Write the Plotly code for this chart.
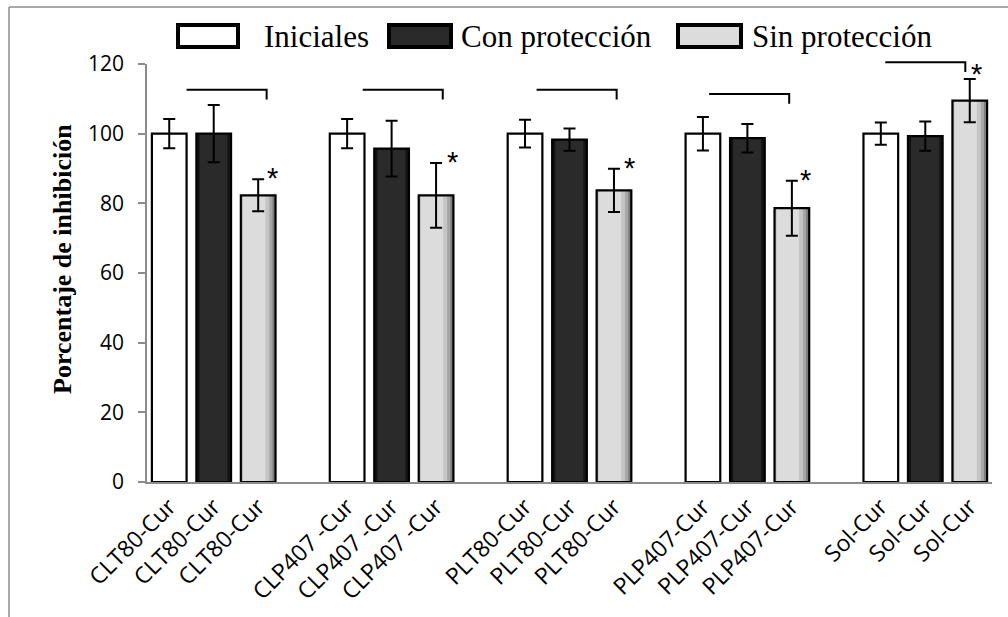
import plotly.graph_objects as go

# ---------------- data ----------------
groups = ["CLT80-Cur", "CLP407 -Cur", "PLT80-Cur", "PLP407-Cur", "Sol-Cur"]
series_names = ["Iniciales", "Con protección", "Sin protección"]

iniciales = [100.0, 100.0, 100.0, 100.0, 100.0]
iniciales_err = [4.2, 4.2, 4.0, 4.8, 3.2]

con_proteccion = [100.0, 95.7, 98.3, 98.7, 99.3]
con_proteccion_err = [8.2, 8.0, 3.2, 4.1, 4.2]

sin_proteccion = [82.3, 82.3, 83.7, 78.6, 109.5]
sin_proteccion_err = [4.6, 9.3, 6.2, 7.9, 6.2]

significant = [True, True, True, True, True]
bracket_levels = [112.6, 112.6, 112.6, 111.4, 120.5]

y_ticks = [0, 20, 40, 60, 80, 100, 120]

# ---------------- layout helpers ----------------
SLOTS = 4  # 3 bars + 1 empty slot per group
BW = 0.78
Y_RANGE = [0, 120]
series_vals = [iniciales, con_proteccion, sin_proteccion]
series_errs = [iniciales_err, con_proteccion_err, sin_proteccion_err]
fills = ["#ffffff", "#2a2a2a", "#dcdcdc"]
# shading strips (offset from bar centre, width, colour) to mimic the bevel/gradient fill
shading = [
    [],
    [(-0.39, 0.07, "#111111"), (0.31, 0.08, "#141414")],
    [(-0.39, 0.04, "#a9a9a9"), (0.16, 0.23, "#c4c4c4"), (0.25, 0.14, "#a6a6a6"),
     (0.32, 0.07, "#7e7e7e")],
]

W, H = 1008, 617
ML, MR, MT, MB = 147, 16, 64, 135
PW, PH = W - ML - MR, H - MT - MB


def px_x(p):
    return (p - ML) / PW


def px_y(p):
    return (H - MB - p) / PH


def val_to_paper(v):
    return (v - Y_RANGE[0]) / (Y_RANGE[1] - Y_RANGE[0])


fig = go.Figure()

tickvals, ticktext = [], []
for s, (name, vals, col) in enumerate(zip(series_names, series_vals, fills)):
    xs = [g * SLOTS + s for g in range(len(groups))]
    fig.add_trace(go.Bar(
        x=xs, y=vals, name=name, width=BW, legendgroup=name,
        marker=dict(color=col, line=dict(width=0)),
        showlegend=False, hoverinfo="skip",
    ))
    for off, w, c in shading[s]:
        fig.add_trace(go.Bar(
            x=xs, y=vals, width=w, offset=off, legendgroup=name,
            marker=dict(color=c, line=dict(width=0)),
            showlegend=False, hoverinfo="skip",
        ))
    for g in range(len(groups)):
        tickvals.append(g * SLOTS + s)
        ticktext.append(groups[g])

# outlines + error bars on top
for s, (name, vals, errs) in enumerate(zip(series_names, series_vals, series_errs)):
    xs = [g * SLOTS + s for g in range(len(groups))]
    fig.add_trace(go.Bar(
        x=xs, y=vals, name=name, width=BW, legendgroup=name,
        marker=dict(color="rgba(0,0,0,0)", line=dict(color="#000000", width=2.2)),
        error_y=dict(type="data", array=errs, visible=True, color="#000000", thickness=2, width=6),
        showlegend=False,
    ))

order = sorted(range(len(tickvals)), key=lambda i: tickvals[i])
tickvals = [tickvals[i] for i in order]
ticktext = [ticktext[i] for i in order]

shapes = []
annotations = []

# significance brackets and asterisks (y in paper units so they are not clipped)
bracket_start = [0.39, 0.35, 0.26, 0.14, 0.10]
bracket_len = 1.8
ast_shift = [14, 16, 16, 14, 7]
ast_dy = [6, 6, 6, 6, 10]
for g in range(len(groups)):
    if not significant[g]:
        continue
    x0 = g * SLOTS + bracket_start[g]
    x1 = x0 + bracket_len
    lv = val_to_paper(bracket_levels[g])
    lv2 = val_to_paper(bracket_levels[g] - 2.8)
    shapes.append(dict(type="path", xref="x", yref="paper",
                       path=f"M {x0},{lv} L {x1},{lv} L {x1},{lv2}",
                       line=dict(color="#000000", width=2)))
    annotations.append(dict(x=g * SLOTS + 2, y=sin_proteccion[g] + sin_proteccion_err[g],
                            xref="x", yref="y", text="*", showarrow=False,
                            xshift=ast_shift[g], yshift=ast_dy[g] - 23, yanchor="bottom",
                            font=dict(family="Liberation Sans", size=29, color="#000000")))

# outer frame (left and top border)
shapes.append(dict(type="line", xref="paper", yref="paper",
                   x0=px_x(9), x1=px_x(9), y0=px_y(7), y1=px_y(630),
                   line=dict(color="#8c8c8c", width=1.5)))
shapes.append(dict(type="line", xref="paper", yref="paper",
                   x0=px_x(9), x1=px_x(1015), y0=px_y(7), y1=px_y(7),
                   line=dict(color="#8c8c8c", width=1.5)))

# custom legend
leg_boxes = [(178, 238), (389, 451), (678, 741)]
leg_text_x = [262, 459, 750]
for (bx0, bx1), tx, name, col in zip(leg_boxes, leg_text_x, series_names, fills):
    shapes.append(dict(type="rect", xref="paper", yref="paper",
                       x0=px_x(bx0), x1=px_x(bx1), y0=px_y(47), y1=px_y(25),
                       fillcolor=col, line=dict(color="#000000", width=4)))
    annotations.append(dict(x=px_x(tx), y=px_y(36), xref="paper", yref="paper",
                            text=name, showarrow=False, xanchor="left", yanchor="middle",
                            font=dict(family="Liberation Serif", size=31, color="#000000")))

# y-axis title
annotations.append(dict(x=px_x(62), y=px_y(259), xref="paper", yref="paper",
                        text="<b>Porcentaje de inhibición</b>", textangle=-90, showarrow=False,
                        xanchor="center", yanchor="middle",
                        font=dict(family="Liberation Serif", size=26, color="#000000")))

fig.update_layout(
    width=W, height=H,
    margin=dict(l=ML, r=MR, t=MT, b=MB, pad=0),
    paper_bgcolor="#ffffff", plot_bgcolor="#ffffff",
    barmode="overlay",
    shapes=shapes, annotations=annotations,
    showlegend=False,
    xaxis=dict(range=[-0.5, len(groups) * SLOTS - 1.5], tickmode="array",
               tickvals=tickvals, ticktext=ticktext, tickangle=-45,
               showline=True, linecolor="#8c8c8c", linewidth=2, ticks="",
               showgrid=False, zeroline=False, automargin=False,
               tickfont=dict(family="Open Sans", size=23, color="#000000")),
    yaxis=dict(range=Y_RANGE, tickmode="array", tickvals=y_ticks,
               showline=True, linecolor="#8c8c8c", linewidth=1.5,
               ticks="outside", ticklen=7, tickcolor="#8c8c8c", tickwidth=1.5,
               ticklabelstandoff=10, automargin=False,
               showgrid=False, zeroline=False,
               tickfont=dict(family="Open Sans", size=21, color="#000000")),
)

fig.write_html("out.html")
